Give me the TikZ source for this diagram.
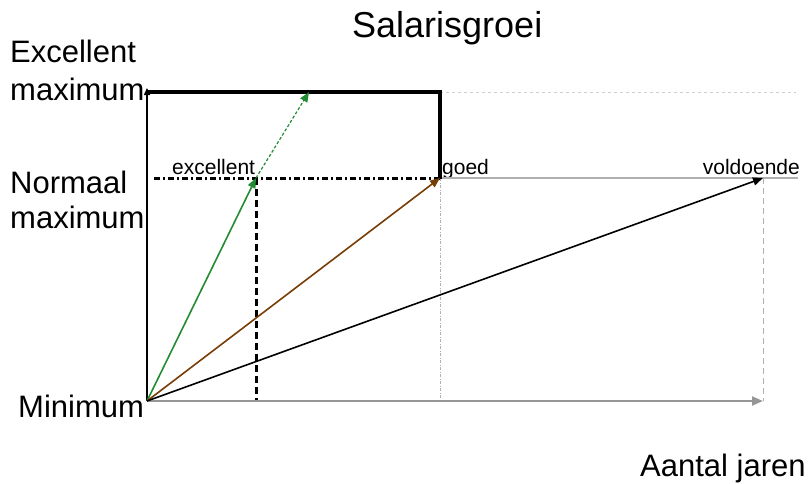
\documentclass[tikz,border=0pt]{standalone}
\usepackage{fontspec}
\setmainfont{Liberation Sans}
\usetikzlibrary{arrows.meta}
\definecolor{ggreen}{RGB}{34,140,50}
\definecolor{gbrown}{RGB}{120,60,5}
\definecolor{axgrey}{RGB}{150,150,150}
\definecolor{lngrey}{RGB}{175,175,175}
\tikzset{
  bigtxt/.style={inner sep=0pt, anchor=base west, font=\fontsize{31}{35}\selectfont},
  smalltxt/.style={inner sep=0pt, font=\fontsize{21}{24}\selectfont},
  tip/.style={-{Triangle[length=10pt,width=8pt]}},
  vec/.style={tip, line width=1.6pt},
}
\begin{document}
\begin{tikzpicture}[x=1pt,y=-1pt]
\useasboundingbox (0,0) rectangle (808,483);
% coordinates
\coordinate (O) at (147,401);
\coordinate (Xend) at (763,401);
\coordinate (Ytop) at (147,88);
\coordinate (TL) at (148,92);
\coordinate (TR) at (440,92);
\coordinate (G) at (440,178);
\coordinate (E) at (256,178);
\coordinate (V) at (763,178);
\coordinate (EM) at (309,92);
\coordinate (N0) at (154,178);
\coordinate (Tend) at (796,92);
\coordinate (Gend) at (798,178);
\coordinate (Eb) at (256,401);
\coordinate (Gb) at (440,401);
\coordinate (Vb) at (763,401);
% texts
\node[inner sep=0pt, anchor=base west, font=\fontsize{36}{41}\selectfont] (title) at (352,37) {Salarisgroei};
\node[bigtxt] (em1) at (10,62) {Excellent};
\node[bigtxt] (em2) at (10,100) {maximum};
\node[bigtxt] (nm1) at (10,193) {Normaal};
\node[bigtxt] (nm2) at (10,228) {maximum};
\node[bigtxt] (mn) at (18,417) {Minimum};
\node[bigtxt] (aj) at (640,476) {Aantal jaren};
\node[smalltxt, anchor=base west] (lexc) at (172,174) {excellent};
\node[smalltxt, anchor=base west] (lgoed) at (442,174) {goed};
\node[smalltxt, anchor=base east] (lvol) at (800,174) {voldoende};
% guide lines
\draw[lngrey!60, dashed, line width=0.8pt] (TR) -- (Tend);
\draw[lngrey, line width=2.5pt] (G) -- (Gend);
\draw[line width=3pt, dash pattern=on 6pt off 3pt on 2pt off 3pt] (N0) -- (G);
\draw[line width=3pt, dash pattern=on 7pt off 4pt] (E) -- (Eb);
\draw[lngrey, line width=1pt, dash pattern=on 3pt off 1.5pt on 1pt off 1.5pt] (G) -- (Gb);
\draw[lngrey, line width=0.8pt, dash pattern=on 6pt off 4pt] (V) -- (Vb);
% axes
\draw[axgrey, line width=2.2pt, -{Triangle[length=11pt,width=9pt]}] (O) -- (Xend);
\draw[line width=1.4pt, -{Triangle[length=7pt,width=6pt]}] (O) -- (Ytop);
% thick frame
\draw[line width=4pt] (TL) -- (TR) -- ([yshift=-1pt]G);
% vectors
\draw[ggreen, vec] (O) -- (E);
\draw[ggreen, tip, line width=1.2pt, dash pattern=on 3pt off 2pt] (E) -- (EM);
\draw[gbrown, vec] (O) -- (G);
\draw[black, vec] (O) -- (V);
\end{tikzpicture}
\end{document}
